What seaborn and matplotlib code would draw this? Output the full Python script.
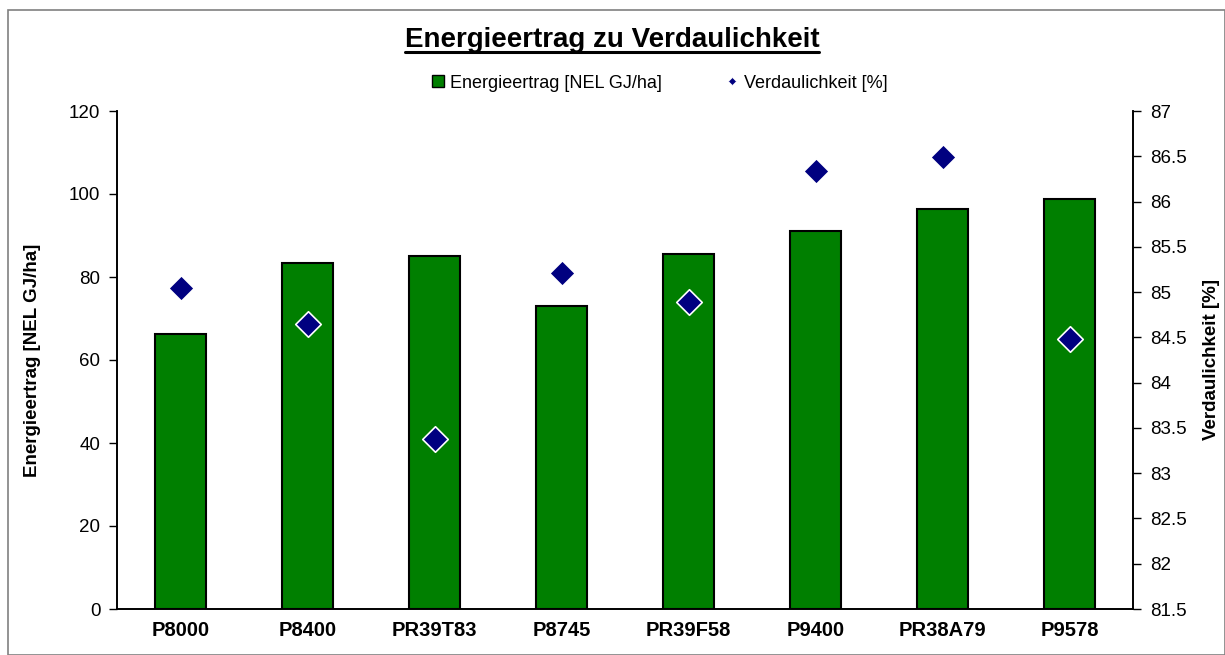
import numpy as np
import pandas as pd
import seaborn as sns
import matplotlib.pyplot as plt
from matplotlib.lines import Line2D
from matplotlib.patches import Rectangle
from matplotlib.ticker import FixedLocator, FuncFormatter

# Daten
sorten = ["P8000", "P8400", "PR39T83", "P8745", "PR39F58", "P9400", "PR38A79", "P9578"]
energieertrag = [66.3, 83.4, 85.1, 73.1, 85.5, 91.2, 96.5, 98.8]
verdaulichkeit = [85.04, 84.65, 83.38, 85.21, 84.89, 86.34, 86.49, 84.48]

df = pd.DataFrame({"sorte": sorten, "energie": energieertrag, "verd": verdaulichkeit})

sns.set_style("white")
plt.rcParams["font.family"] = ["Liberation Sans", "DejaVu Sans"]
plt.rcParams.update({"text.color": "black", "axes.labelcolor": "black",
                     "xtick.color": "black", "ytick.color": "black"})

fig = plt.figure(figsize=(12.25, 6.55), dpi=100)
ax = fig.add_axes([117 / 1225, 1 - 609 / 655, 1016 / 1225, 498 / 655])
ax2 = ax.twinx()

sns.barplot(data=df, x="sorte", y="energie", color="#007f00", width=0.4,
            edgecolor="black", linewidth=1.5, saturation=1, ax=ax)
sns.stripplot(data=df, x="sorte", y="verd", jitter=False, marker="D", size=13,
              color="#000080", edgecolor="white", linewidth=1.2, ax=ax2)

ax.set_xlim(-0.5, len(sorten) - 0.5)
ax.set_ylim(0, 120)
ax.set_yticks(range(0, 121, 20))
ax2.set_ylim(81.5, 87)
ax2.set_yticks(np.arange(81.5, 87.01, 0.5))
ax2.yaxis.set_major_formatter(FuncFormatter(lambda v, p: f"{v:g}"))

for a in (ax, ax2):
    a.spines["top"].set_visible(False)
    for s in ("left", "right", "bottom"):
        a.spines[s].set_color("black")
        a.spines[s].set_linewidth(1.2)
    a.grid(False)
    a.set_xlabel("")

ax.tick_params(axis="y", direction="out", length=6, width=1, labelsize=13.5, pad=6)
ax2.tick_params(axis="y", direction="out", length=6, width=1, labelsize=13.5, pad=6)
ax.xaxis.set_minor_locator(FixedLocator(np.arange(-0.5, len(sorten), 1.0)))
ax.tick_params(axis="x", which="major", length=0, labelsize=14.5, pad=9)
ax.tick_params(axis="x", which="minor", direction="inout", length=12, width=1)
for lbl in ax.get_xticklabels():
    lbl.set_fontweight("bold")

ax.set_ylabel("Energieertrag [NEL GJ/ha]", fontsize=13.5, fontweight="bold", labelpad=20)
ax2.set_ylabel("Verdaulichkeit [%]", fontsize=13.5, fontweight="bold", labelpad=12)

# Titel mit Unterstreichung
title = fig.text(612 / 1225, 1 - 40 / 655, "Energieertrag zu Verdaulichkeit",
                 ha="center", va="center", fontsize=20, fontweight="bold")
fig.canvas.draw()
bb = title.get_window_extent().transformed(fig.transFigure.inverted())
fig.add_artist(Line2D([bb.x0, bb.x1], [bb.y0 + 0.001, bb.y0 + 0.001],
                      transform=fig.transFigure, color="black", linewidth=2.2))

# Legende
handles = [
    Line2D([], [], marker="s", linestyle="none", markersize=8, markerfacecolor="#007f00",
           markeredgecolor="black", markeredgewidth=1),
    Line2D([], [], marker="D", linestyle="none", markersize=4.5, markerfacecolor="#000080",
           markeredgecolor="white", markeredgewidth=0.5),
]
fig.legend(handles, ["Energieertrag [NEL GJ/ha]", "Verdaulichkeit [%]"],
           loc="center", bbox_to_anchor=(660 / 1225, 1 - 83 / 655), ncol=2, frameon=False,
           fontsize=13, handlelength=0.6, handletextpad=0.35, columnspacing=3.6)

# Rahmen um das Diagramm
fig.add_artist(Rectangle((8 / 1225, 0), 1 - 8 / 1225, 1 - 10 / 655, transform=fig.transFigure,
                         fill=False, edgecolor="#808080", linewidth=1.2))

fig.savefig("out.png", dpi=100)
